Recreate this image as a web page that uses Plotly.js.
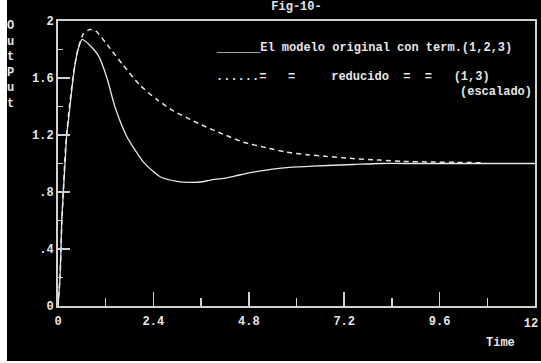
<!DOCTYPE html>
<html>
<head>
<meta charset="utf-8">
<script src="https://cdn.plot.ly/plotly-3.0.1.min.js"></script>
<style>
html,body{margin:0;padding:0;background:#000;}
#chart{width:541px;height:363px;}
</style>
</head>
<body>
<div id="chart"></div>
<script>
// Original model with terms (1,2,3)
const timeOriginal = [0, 0.05, 0.075, 0.093, 0.134, 0.176, 0.22, 0.26, 0.30, 0.385, 0.47, 0.55, 0.6, 0.68, 0.8, 1.01, 1.22, 1.43, 1.73, 2.15, 2.57, 2.99, 3.3, 3.63, 3.84, 4.16, 4.45, 4.75, 5.06, 5.40, 5.82, 6.41, 7.43, 8.10, 9.0, 10.0, 11.0, 12.0];
const outputOriginal = [0, 0.2, 0.4, 0.6, 0.8, 1.0, 1.2, 1.3, 1.4, 1.61, 1.76, 1.84, 1.87, 1.86, 1.83, 1.76, 1.61, 1.40, 1.19, 1.01, 0.907, 0.875, 0.868, 0.872, 0.884, 0.896, 0.912, 0.931, 0.947, 0.961, 0.973, 0.982, 0.993, 1.0, 1.0, 1.0, 1.0, 1.0];

// Reduced model (1,3), scaled
const timeReduced = [0, 0.05, 0.1, 0.2, 0.3, 0.4, 0.5, 0.64, 0.8, 0.95, 1.22, 1.64, 2.06, 2.48, 2.90, 3.32, 3.74, 4.16, 4.66, 5.25, 5.75, 6.26, 6.76, 7.35, 8.10, 8.68, 9.43, 10.0, 10.74];
const outputReduced = [0, 0.2, 0.6, 1.15, 1.43, 1.65, 1.80, 1.91, 1.94, 1.93, 1.84, 1.69, 1.55, 1.45, 1.37, 1.31, 1.255, 1.205, 1.15, 1.11, 1.08, 1.062, 1.05, 1.036, 1.024, 1.015, 1.01, 1.008, 1.005];

const xTickVals = [0, 2.4, 4.8, 7.2, 9.6, 12];
const xTickText = ['0', '2.4', '4.8', '7.2', '9.6', ''];
const xEndTickVals = [12];
const xEndTickText = ['12'];
const yTickVals = [0, 0.4, 0.8, 1.2, 1.6, 2];
const yTickText = ['0', '.4', '.8', '1.2', '1.6', '2'];

const titleText = 'Fig-10-';
const legendLine1 = '______El modelo original con term.(1,2,3)';
const legendLine2 = '......=\u00a0\u00a0\u00a0=\u00a0\u00a0\u00a0\u00a0\u00a0reducido\u00a0\u00a0=\u00a0\u00a0=\u00a0\u00a0\u00a0(1,3)';
const legendLine3 = '(escalado)';
const yTitle = 'O<br>u<br>t<br>P<br>u<br>t';
const xTitle = 'Time';

const FG = '#e6e6e6';
const AX = '#d0d0d0';
const FONT = {family: 'Liberation Mono, DejaVu Sans Mono, monospace', size: 12, color: FG, weight: 'bold'};

const traces = [
  {x: timeOriginal, y: outputOriginal, type: 'scatter', mode: 'lines',
   line: {color: FG, width: 1.3, shape: 'spline', smoothing: 0.6}, hoverinfo: 'skip'},
  {x: timeReduced, y: outputReduced, type: 'scatter', mode: 'lines', xaxis: 'x2',
   line: {color: FG, width: 1.5, dash: '5px,4px', shape: 'spline', smoothing: 0.6}, hoverinfo: 'skip'}
];

// plot area: page x 58..535, y 21..306
const layout = {
  width: 541, height: 363,
  margin: {l: 58, r: 6, t: 21, b: 57},
  paper_bgcolor: '#000', plot_bgcolor: '#000',
  showlegend: false,
  font: FONT,
  title: {text: titleText, font: FONT, x: 0.5, xref: 'paper', y: 0.997, yref: 'container', yanchor: 'top', pad: {t: 0}},
  xaxis: {
    range: [0, 12], tickmode: 'array', tickvals: xTickVals, ticktext: xTickText,
    ticks: 'inside', ticklen: 14, tickwidth: 1.5, tickcolor: AX,
    minor: {dtick: 1.2, tick0: 0, ticks: 'inside', ticklen: 8, tickwidth: 1.5, tickcolor: AX, showgrid: false},
    showline: true, linecolor: AX, linewidth: 2, mirror: true,
    showgrid: false, zeroline: false, tickfont: FONT, fixedrange: true,
    ticklabelstandoff: 3
  },
  xaxis2: {
    overlaying: 'x', anchor: 'y', side: 'bottom', matches: 'x',
    range: [0, 12], tickmode: 'array', tickvals: xEndTickVals, ticktext: xEndTickText,
    ticks: '', showline: false, showgrid: false, zeroline: false,
    tickfont: FONT, fixedrange: true, ticklabelstandoff: 8, ticklabelshift: -4,
    ticklabeloverflow: 'allow'
  },
  yaxis: {
    range: [0, 2], tickmode: 'array', tickvals: yTickVals, ticktext: yTickText,
    ticks: 'inside', ticklen: 12, tickwidth: 1.5, tickcolor: AX,
    minor: {dtick: 0.2, tick0: 0, ticks: 'inside', ticklen: 5, tickwidth: 1.5, tickcolor: AX, showgrid: false},
    showline: true, linecolor: AX, linewidth: 2, mirror: true,
    showgrid: false, zeroline: false, tickfont: FONT, fixedrange: true
  },
  annotations: [
    {text: legendLine1, xref: 'x', yref: 'y', x: 3.925, y: 1.81, xanchor: 'left', yanchor: 'middle', showarrow: false, font: FONT},
    {text: legendLine2, xref: 'x', yref: 'y', x: 3.925, y: 1.607, xanchor: 'left', yanchor: 'middle', showarrow: false, font: FONT},
    {text: legendLine3, xref: 'x', yref: 'y', x: 11.97, y: 1.502, xanchor: 'right', yanchor: 'middle', showarrow: false, font: FONT},
    {text: yTitle, xref: 'paper', yref: 'paper', x: -0.1006, y: 0.846, xanchor: 'center', yanchor: 'middle', showarrow: false, font: FONT},
    {text: xTitle, xref: 'x', yref: 'paper', x: 11.13, y: -0.13, xanchor: 'center', yanchor: 'middle', showarrow: false, font: FONT}
  ],
  shapes: [
    {type: 'rect', xref: 'paper', yref: 'paper', x0: -0.1216, x1: -0.1069, y0: -0.2, y1: 1.074, fillcolor: '#fff', line: {width: 0}, layer: 'above'},
    {type: 'rect', xref: 'paper', yref: 'paper', x0: -0.1216, x1: 1.013, y0: -0.2, y1: -0.193, fillcolor: '#fff', line: {width: 0}, layer: 'above'}
  ]
};

Plotly.newPlot('chart', traces, layout, {staticPlot: true, displayModeBar: false});
</script>
</body>
</html>
